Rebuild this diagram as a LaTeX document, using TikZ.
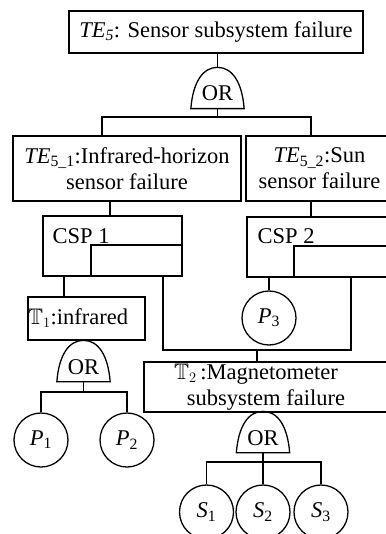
\documentclass[tikz,border=0pt]{standalone}
\usepackage{fontspec}
\setmainfont{Liberation Serif}
\usepackage{amssymb}
\usetikzlibrary{calc}

\tikzset{
  base font/.style={font=\fontsize{22.5}{26}\selectfont},
  box/.style={draw, inner sep=0pt, align=center, base font},
  lbl/.style={inner sep=0pt, base font},
  gate/.style={inner sep=0pt, minimum width=52pt, minimum height=40pt,
    text height=26pt, text depth=0pt, base font},
  circ/.style={draw, circle, inner sep=0pt, minimum size=54pt, base font},
}

% OR gate outline: flat base, rounded dome meeting at the node's north point
\newcommand\domeoutline[1]{%
  \draw (#1.south west) .. controls ($(#1.south west)+(2,-26)$) and ($(#1.north)+(-15,0)$) .. (#1.north)
        .. controls ($(#1.north)+(15,0)$) and ($(#1.south east)+(-2,-26)$) .. (#1.south east) -- cycle;}

\begin{document}
\begin{tikzpicture}[x=1pt, y=-1pt, line width=1.3pt]
\useasboundingbox (0,0) rectangle (385,534);
\fill[white] (0,0) rectangle (385,534);

% top event and its gate
\node[box, minimum width=294pt, minimum height=42pt] (te5) at (216,32)
  {\textit{TE}\textsubscript{\textit{5}}: Sensor subsystem failure};
\node[gate] (or1) at (217.5,88) {OR};
\domeoutline{or1}

% second level events
\node[box, minimum width=228pt, minimum height=65pt] (te51) at (127,168.5)
  {\textit{TE}\textsubscript{5\_1}:Infrared-horizon\\sensor failure};
\node[box, minimum width=147pt, minimum height=65pt] (te52) at (319.5,168.5)
  {\textit{TE}\textsubscript{5\_2}:Sun\\sensor failure};

% CSP gates
\node[box, minimum width=139pt, minimum height=60pt] (csp1) at (112.5,246) {};
\node[lbl, anchor=base west] (csp1t) at (52,243) {CSP 1};
\draw (csp1.east |- 0,245) -| (csp1.south -| 91,0);
\node[box, minimum width=141pt, minimum height=60pt] (csp2) at (317.5,247) {};
\node[lbl, anchor=base west] (csp2t) at (257,243) {CSP 2};
\draw (csp2.east |- 0,246) -| (csp2.south -| 294,0);

% infrared branch
\node[box, text width=117pt, minimum height=43pt, align=left] (t1) at (86.5,318.5)
  {$\mathbb{T}_1$:infrared};
\node[gate] (or2) at (83.5,361) {OR};
\domeoutline{or2}
\node[circ] (p1) at (41,440) {\textit{P}\textsubscript{1}};
\node[circ] (p2) at (127,440) {\textit{P}\textsubscript{2}};
\node[circ] (p3) at (269,318) {\textit{P}\textsubscript{3}};

% magnetometer branch
\node[box, minimum width=244pt, minimum height=50pt] (t2) at (266,387)
  {$\mathbb{T}_2$\,:Magnetometer\hspace*{20pt}\\subsystem failure};
\node[gate] (or3) at (263,432) {OR};
\domeoutline{or3}
\node[circ] (s1) at (206.5,512) {\textit{S}\textsubscript{1}};
\node[circ] (s2) at (263,512) {\textit{S}\textsubscript{2}};
\node[circ] (s3) at (321,512) {\textit{S}\textsubscript{3}};

% connectors
\draw (or1.north |- te5.south) -- (or1.north);
\draw (or1.south) -- (or1.south |- 0,117);
\draw (te51.north -| 102,0) |- (or1.south |- 0,117) -| (te52.north -| 311,0);
\draw (te51.south -| 110,0) -- (csp1.north -| 110,0);
\draw (te52.south -| 311,0) -- (csp2.north -| 311,0);
\draw (csp1.south -| 64,0) -- (t1.north -| 64,0);
\coordinate (j) at (257,350);
\draw (csp1.south -| 163,0) |- (j) -| (csp2.south -| 351,0);
\draw (j) -- (t2.north -| j);
\draw (csp2.south -| p3.north) -- (p3.north);
\draw (or2.south) -- (or2.south |- 0,392);
\draw (p1.north) |- (or2.south |- 0,392) -| (p2.north);
\draw (or3.south) -- (or3.south |- 0,462);
\draw (s1.north) |- (or3.south |- 0,462) -| (s3.north);
\draw (s2.north) -- (s2.north |- 0,462);
\end{tikzpicture}
\end{document}
